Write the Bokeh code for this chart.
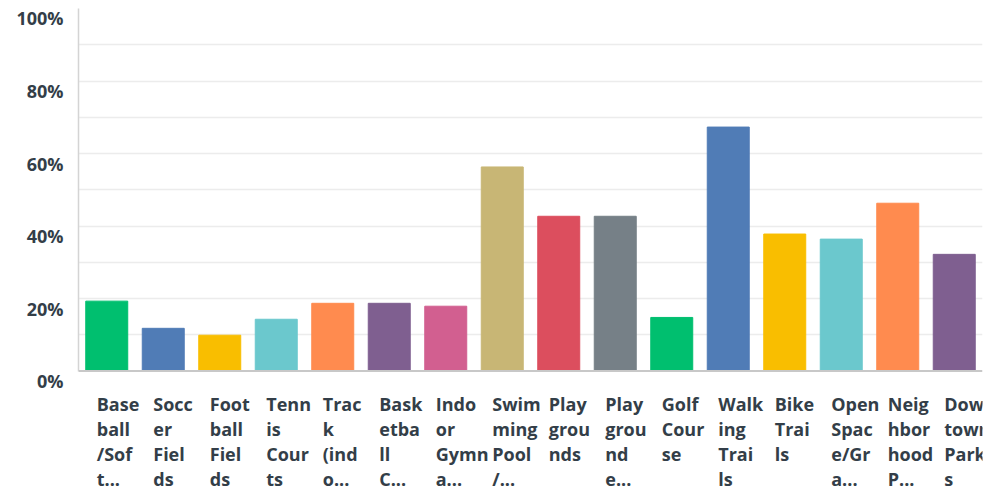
from bokeh.plotting import figure
from bokeh.models import (ColumnDataSource, LabelSet, FixedTicker, Span,
                          LinearAxis, CustomJSTickFormatter)
from bokeh.core.properties import value
from bokeh.embed import file_html
from bokeh.resources import INLINE

labels = [
    "Base\nball\n/Sof\nt...", "Socc\ner\nFiel\nds", "Foot\nball\nFiel\nds",
    "Tenn\nis\nCour\nts", "Trac\nk\n(ind\no...", "Bask\netba\nll\nC...",
    "Indo\nor\nGymn\na...", "Swim\nming\nPool\n/...", "Play\ngrou\nnds",
    "Play\ngrou\nnd\ne...", "Golf\nCour\nse", "Walk\ning\nTrai\nls",
    "Bike\nTrai\nls", "Open\nSpac\ne/Gr\na...", "Neig\nhbor\nhood\nP...",
    "Down\ntown\nPark\ns",
]
values = [19.3, 11.8, 9.9, 14.3, 18.7, 18.7, 17.9, 56.3, 42.7, 42.7,
          14.8, 67.3, 37.8, 36.4, 46.3, 32.2]
colors = ["#00bf6f", "#507cb6", "#f9be00", "#6bc8cd", "#ff8b4f", "#7f5f90",
          "#d25f90", "#c8b675", "#dc4e5e", "#768087",
          "#00bf6f", "#507cb6", "#f9be00", "#6bc8cd", "#ff8b4f", "#7f5f90"]
y_ticks = [0, 20, 40, 60, 80, 100]
grid_ticks = [10, 20, 30, 40, 50, 60, 70, 80, 90]
label_shift = 2.75  # y labels sit a little below their gridline

src = ColumnDataSource(dict(cat=labels, val=values, color=colors,
                            base=[0] * len(labels)))

p = figure(x_range=labels, y_range=(-33.2, 100), width=989, height=491,
           output_backend="svg", toolbar_location=None,
           min_border_left=78, min_border_right=7, min_border_top=8,
           min_border_bottom=0)
p.outline_line_color = None

p.vbar(x="cat", top="val", width=0.743, color="color", source=src)

p.xaxis.visible = False
p.xgrid.grid_line_color = None

p.ygrid.ticker = FixedTicker(ticks=grid_ticks)
p.ygrid.grid_line_color = "#ececec"
p.ygrid.grid_line_width = 1.5

# axis line only
yax = p.yaxis[0]
yax.ticker = FixedTicker(ticks=[])
yax.bounds = (0, 100)
yax.axis_line_color = "#d4d4d4"
yax.axis_line_width = 1.5
yax.major_tick_line_color = None
yax.minor_tick_line_color = None
yax.major_tick_out = 0
yax.major_tick_in = 0
yax.major_label_standoff = 0

# tick labels
lab_ax = LinearAxis(
    ticker=FixedTicker(ticks=[t - label_shift for t in y_ticks]),
    formatter=CustomJSTickFormatter(
        args=dict(shift=label_shift),
        code="return Math.round(tick + shift) + '%'"),
    axis_line_color=None, major_tick_line_color=None,
    minor_tick_line_color=None, major_tick_out=0, major_tick_in=0,
    major_label_standoff=15, major_label_text_font="Open Sans",
    major_label_text_font_style="bold", major_label_text_font_size="18px",
    major_label_text_color="#333e48")
p.add_layout(lab_ax, "left")

p.add_layout(Span(location=0, dimension="width", line_color="#c8c8c8",
                  line_width=2))

lbl = LabelSet(x="cat", y="base", text="cat", source=src,
               x_offset=-10, y_offset=-21, text_align="left",
               text_baseline="top", text_font=value("Open Sans"),
               text_font_style="bold", text_font_size="18px",
               text_color="#333e48", text_line_height=1.04)
p.add_layout(lbl)

open("out.html", "w").write(file_html(p, INLINE))
